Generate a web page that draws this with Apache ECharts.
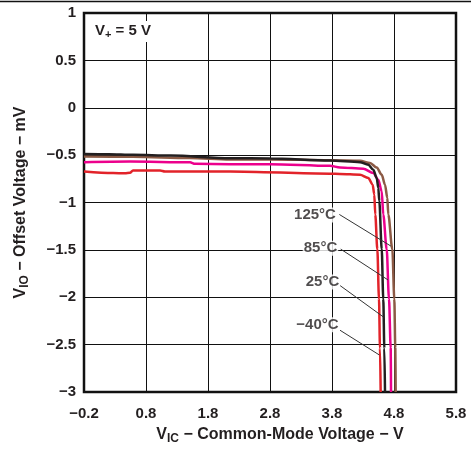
<!DOCTYPE html>
<html>
<head>
<meta charset="utf-8">
<script src="https://cdn.jsdelivr.net/npm/echarts@6/dist/echarts.min.js"></script>
<style>
  html, body { margin: 0; padding: 0; background: #fff; }
  #chart { width: 471px; height: 450px; }
</style>
</head>
<body>
<div id="chart"></div>
<script>
// x axis runs -0.2 .. 5.8 with labels every 1 V
const xTicks = ['−0.2', '0.8', '1.8', '2.8', '3.8', '4.8', '5.8']
const xStart = -0.2

// [common-mode voltage V, offset voltage mV]
const t25 = [[-0.2, -0.487], [0.2, -0.49], [0.59, -0.497], [1.2, -0.505], [2.155, -0.532], [2.8, -0.536],
  [3.768, -0.557], [4.252, -0.574], [4.385, -0.602], [4.466, -0.654], [4.521, -0.741], [4.547, -0.846],
  [4.563, -0.986], [4.602, -1.492], [4.627, -2.016], [4.644, -2.539], [4.655, -3.0]]
const t125 = [[-0.2, -0.515], [0.59, -0.518], [1.5, -0.53], [2.155, -0.547], [2.8, -0.545], [3.768, -0.555],
  [4.252, -0.56], [4.413, -0.584], [4.521, -0.63], [4.602, -0.707], [4.655, -0.812], [4.692, -0.951],
  [4.708, -1.126], [4.773, -1.492], [4.805, -2.016], [4.821, -2.539], [4.827, -3.0]]
const t85 = [[-0.2, -0.574], [0.542, -0.568], [1.51, -0.576], [1.59, -0.592], [2.155, -0.595], [2.8, -0.595],
  [3.768, -0.613], [3.929, -0.63], [4.305, -0.644], [4.466, -0.689], [4.547, -0.759], [4.602, -0.882],
  [4.627, -1.126], [4.682, -1.492], [4.719, -2.016], [4.747, -2.539], [4.752, -3.0]]
const tm40 = [[-0.2, -0.672], [0.268, -0.689], [0.461, -0.691], [0.542, -0.686], [0.59, -0.662], [1.026, -0.662],
  [1.106, -0.672], [2.155, -0.672], [3.768, -0.696], [3.929, -0.699], [4.252, -0.707], [4.385, -0.741],
  [4.456, -0.812], [4.482, -0.916], [4.498, -1.126], [4.531, -1.492], [4.558, -2.016], [4.574, -2.539], [4.585, -3.0]]

// curve labels: text, label centre, leader start, leader end
const tempLabels = ['125°C', '85°C', '25°C', '−40°C']
const labelPos = [[3.526, -1.131], [3.614, -1.482], [3.646, -1.838], [3.565, -2.291]]
const leaderFrom = [[3.918, -1.126], [3.94, -1.492], [3.929, -1.876], [3.929, -2.348]]
const leaderTo = [[4.75, -1.46], [4.703, -1.817], [4.627, -2.207], [4.563, -2.609]]

const shift = p => [p[0] - xStart, p[1]]
const font = '"Liberation Sans", Arial, sans-serif'
const ink = '#231f20'

const chart = echarts.init(document.getElementById('chart'))

function curve(name, data, color) {
  return {
    name, type: 'line', data: data.map(shift), symbol: 'none',
    smooth: 0.3, smoothMonotone: 'x',
    lineStyle: { color, width: 2.5 }, z: 3
  }
}

chart.setOption({
  animation: false,
  grid: {
    left: 84, right: 15, top: 13, bottom: 50,
    show: true, borderColor: '#111', borderWidth: 2.5, backgroundColor: 'transparent'
  },
  xAxis: {
    type: 'value', min: 0, max: 6, interval: 1,
    axisLine: { show: false }, axisTick: { show: false },
    splitLine: { lineStyle: { color: '#111', width: 1 } },
    axisLabel: {
      margin: 14, color: ink, fontFamily: font, fontWeight: 'bold', fontSize: 15,
      formatter: v => xTicks[Math.round(v)]
    },
    name: '{b|V}{s|IC}{b| − Common-Mode Voltage − V}',
    nameLocation: 'middle', nameGap: 33,
    nameTextStyle: {
      padding: [0, 0, 0, 20],
      rich: {
        b: { fontFamily: font, fontWeight: 'bold', fontSize: 16, color: ink },
        s: { fontFamily: font, fontWeight: 'bold', fontSize: 12, color: ink, padding: [8, 0, 0, 0] }
      }
    }
  },
  yAxis: {
    type: 'value', min: -3, max: 1, interval: 0.5,
    axisLine: { show: false }, axisTick: { show: false },
    splitLine: { lineStyle: { color: '#111', width: 1 } },
    axisLabel: {
      margin: 8, color: ink, fontFamily: font, fontWeight: 'bold', fontSize: 15,
      formatter: v => String(v).replace('-', '−')
    },
    name: '{b|V}{s|IO}{b| − Offset Voltage − mV}',
    nameLocation: 'middle', nameGap: 53,
    nameTextStyle: {
      rich: {
        b: { fontFamily: font, fontWeight: 'bold', fontSize: 16, color: ink },
        s: { fontFamily: font, fontWeight: 'bold', fontSize: 12, color: ink, padding: [8, 0, 0, 0] }
      }
    }
  },
  graphic: [
    { type: 'line', shape: { x1: 0, y1: 1.5, x2: 471, y2: 1.5 }, style: { stroke: '#111', lineWidth: 1.5 } },
    {
      type: 'text', left: 94, top: 21, z: 10,
      style: {
        text: '{a|V}{s|+}{a| = 5 V}',
        backgroundColor: '#fff', padding: [1, 2, 2, 1],
        rich: {
          a: { fontFamily: font, fontWeight: 'bold', fontSize: 15, fill: ink },
          s: { fontFamily: font, fontWeight: 'bold', fontSize: 11, fill: ink, padding: [7, 0, 0, 0] }
        }
      }
    }
  ],
  series: [
    curve('125°C', t125, '#8c5a45'),
    curve('85°C', t85, '#ec008c'),
    curve('25°C', t25, '#231f20'),
    curve('−40°C', tm40, '#e2232a'),
    {
      type: 'lines', coordinateSystem: 'cartesian2d', z: 4, silent: true,
      lineStyle: { color: '#333', width: 1, opacity: 1 },
      data: leaderFrom.map((p, i) => ({ coords: [shift(p), shift(leaderTo[i])] }))
    },
    {
      type: 'scatter', symbolSize: 0, z: 5, silent: true,
      data: labelPos.map((p, i) => ({ value: shift(p), name: tempLabels[i] })),
      label: {
        show: true, position: 'inside', formatter: '{b}',
        fontFamily: font, fontWeight: 'bold', fontSize: 15, color: ink,
        backgroundColor: '#fff', padding: [0, 1]
      }
    }
  ]
})
</script>
</body>
</html>
